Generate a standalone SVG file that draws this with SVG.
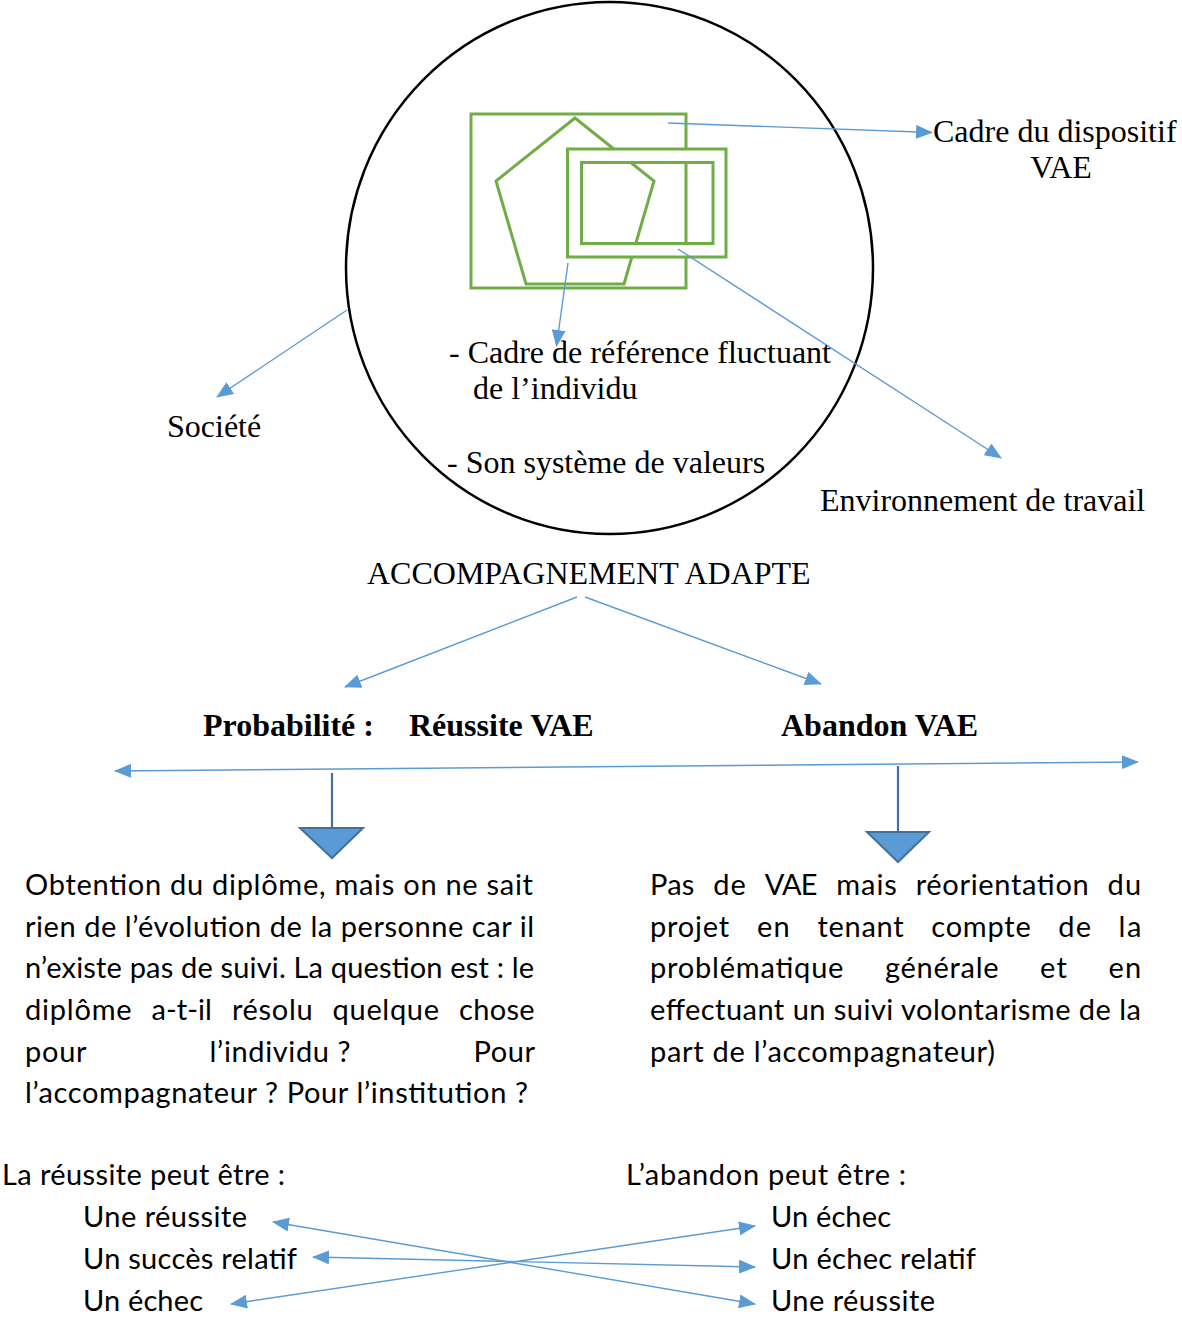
<svg xmlns="http://www.w3.org/2000/svg" width="1182" height="1320" viewBox="0 0 1182 1320">
<style>
.serif{font-family:"Liberation Serif","Times New Roman",serif;font-size:32px;fill:#000}
.bold{font-weight:bold}
.sans{font-family:Lato,"Open Sans","Liberation Sans",sans-serif;font-size:29px;fill:#000}
.green{fill:none;stroke:#70AD47;stroke-width:3}
.conn{fill:none;stroke:#5B9BD5;stroke-width:1.4}
.down{fill:none;stroke:#41719C;stroke-width:2.2}
.tri{fill:#5B9BD5;stroke:#41719C;stroke-width:2}
</style>
<defs>
<marker id="ah" markerUnits="userSpaceOnUse" markerWidth="17" markerHeight="14" refX="16" refY="7" orient="auto-start-reverse">
<path d="M0,0 L17,7 L0,14 z" fill="#5B9BD5"/>
</marker>
</defs>
<rect width="1182" height="1320" fill="#fff"/>

<g id="circle">
<ellipse cx="609.5" cy="268" rx="263.5" ry="266" fill="none" stroke="#000" stroke-width="2.5"/>
</g>

<g id="shapes">
<rect class="green" x="471" y="114" width="215" height="174"/>
<polygon class="green" points="575,118 654,181 624,284 526,284 496,181"/>
<path d="M567.5,149 H726 V257 H567.5 Z M581.5,162.5 V243.5 H713 V162.5 Z" fill="#fff" fill-rule="evenodd" stroke="#70AD47" stroke-width="3"/>
</g>

<g id="connectors">
<line class="conn" x1="668" y1="123" x2="932" y2="132.5" marker-end="url(#ah)"/>
<line class="conn" x1="568" y1="263" x2="556.5" y2="346" marker-end="url(#ah)"/>
<line class="conn" x1="678" y1="249" x2="1001" y2="458" marker-end="url(#ah)"/>
<line class="conn" x1="347" y1="310" x2="217" y2="397" marker-end="url(#ah)"/>
<line class="conn" x1="577" y1="597" x2="345" y2="687" marker-end="url(#ah)"/>
<line class="conn" x1="585" y1="597" x2="821" y2="684" marker-end="url(#ah)"/>
<line class="conn" x1="115" y1="771" x2="1138" y2="762" marker-start="url(#ah)" marker-end="url(#ah)"/>
<line class="down" x1="332" y1="773" x2="332" y2="830"/>
<polygon class="tri" points="300,828 363,828 332,858"/>
<line class="down" x1="898" y1="766" x2="898" y2="834"/>
<polygon class="tri" points="867,832 929,832 898,862"/>
<line class="conn" x1="273" y1="1222" x2="755" y2="1304" marker-start="url(#ah)" marker-end="url(#ah)"/>
<line class="conn" x1="313" y1="1257" x2="755" y2="1267" marker-start="url(#ah)" marker-end="url(#ah)"/>
<line class="conn" x1="231" y1="1304" x2="755" y2="1226" marker-start="url(#ah)" marker-end="url(#ah)"/>
</g>

<g id="label-cadre-dispositif">
<text class="serif" x="933" y="142">Cadre du dispositif</text>
<text class="serif" x="1061" y="178" text-anchor="middle">VAE</text>
</g>
<g id="label-individu">
<text class="serif" x="449" y="363">- Cadre de référence fluctuant</text>
<text class="serif" x="473" y="399">de l’individu</text>
<text class="serif" x="447" y="473">- Son système de valeurs</text>
</g>
<g id="label-societe"><text class="serif" x="167" y="437">Société</text></g>
<g id="label-environnement"><text class="serif" x="820" y="511">Environnement de travail</text></g>
<g id="label-accompagnement"><text class="serif" x="367" y="584">ACCOMPAGNEMENT ADAPTE</text></g>
<g id="label-probabilite">
<text class="serif bold" x="203" y="736">Probabilité :</text>
<text class="serif bold" x="409" y="736">Réussite VAE</text>
</g>
<g id="label-abandon"><text class="serif bold" x="781" y="736">Abandon VAE</text></g>

<g id="para-reussite" class="sans">
<text x="25" y="895" textLength="508" lengthAdjust="spacing">Obtention du diplôme, mais on ne sait</text>
<text x="25" y="937" textLength="509" lengthAdjust="spacing">rien de l’évolution de la personne car il</text>
<text x="25" y="978" textLength="509" lengthAdjust="spacing">n’existe pas de suivi. La question est : le</text>
<text y="1020"><tspan x="25" textLength="106.6" lengthAdjust="spacing">diplôme</tspan></text>
<text y="1020" x="151.6" textLength="60.3" lengthAdjust="spacing">a-t-il</text>
<text y="1020" x="232" textLength="80.6" lengthAdjust="spacing">résolu</text>
<text y="1020" x="332.6" textLength="106.4" lengthAdjust="spacing">quelque</text>
<text y="1020" x="459" textLength="75.6" lengthAdjust="spacing">chose</text>
<text y="1062" x="25" textLength="61.6" lengthAdjust="spacing">pour</text>
<text y="1062" x="209.6" textLength="141" lengthAdjust="spacing">l’individu ?</text>
<text y="1062" x="473.6" textLength="61.4" lengthAdjust="spacing">Pour</text>
<text x="25" y="1103" textLength="503" lengthAdjust="spacing">l’accompagnateur ? Pour l’institution ?</text>
</g>

<g id="para-abandon" class="sans">
<text y="895" x="650" textLength="44.4" lengthAdjust="spacing">Pas</text>
<text y="895" x="713.2" textLength="32.7" lengthAdjust="spacing">de</text>
<text y="895" x="764.7" textLength="52.7" lengthAdjust="spacing">VAE</text>
<text y="895" x="836.2" textLength="60.7" lengthAdjust="spacing">mais</text>
<text y="895" x="915.7" textLength="173" lengthAdjust="spacing">réorientation</text>
<text y="895" x="1107.5" textLength="33.6" lengthAdjust="spacing">du</text>
<text y="937" x="650" textLength="79.1" lengthAdjust="spacing">projet</text>
<text y="937" x="757.1" textLength="32.7" lengthAdjust="spacing">en</text>
<text y="937" x="817.4" textLength="86.3" lengthAdjust="spacing">tenant</text>
<text y="937" x="931.3" textLength="99.4" lengthAdjust="spacing">compte</text>
<text y="937" x="1058.3" textLength="32.7" lengthAdjust="spacing">de</text>
<text y="937" x="1118.6" textLength="22.7" lengthAdjust="spacing">la</text>
<text y="978" x="650" textLength="193.4" lengthAdjust="spacing">problématique</text>
<text y="978" x="885" textLength="113.5" lengthAdjust="spacing">générale</text>
<text y="978" x="1040.1" textLength="26.7" lengthAdjust="spacing">et</text>
<text y="978" x="1108.4" textLength="32.7" lengthAdjust="spacing">en</text>
<text x="650" y="1020" textLength="491" lengthAdjust="spacing">effectuant un suivi volontarisme de la</text>
<text x="650" y="1062" textLength="345" lengthAdjust="spacing">part de l’accompagnateur)</text>
</g>

<g id="list-reussite" class="sans">
<text x="2" y="1185" textLength="283" lengthAdjust="spacing">La réussite peut être :</text>
<text x="83" y="1227" textLength="164" lengthAdjust="spacing">Une réussite</text>
<text x="83" y="1269" textLength="214" lengthAdjust="spacing">Un succès relatif</text>
<text x="83" y="1311" textLength="120" lengthAdjust="spacing">Un échec</text>
</g>
<g id="list-abandon" class="sans">
<text x="626" y="1185" textLength="280" lengthAdjust="spacing">L’abandon peut être :</text>
<text x="771" y="1227" textLength="120" lengthAdjust="spacing">Un échec</text>
<text x="771" y="1269" textLength="205" lengthAdjust="spacing">Un échec relatif</text>
<text x="771" y="1311" textLength="164" lengthAdjust="spacing">Une réussite</text>
</g>
</svg>
